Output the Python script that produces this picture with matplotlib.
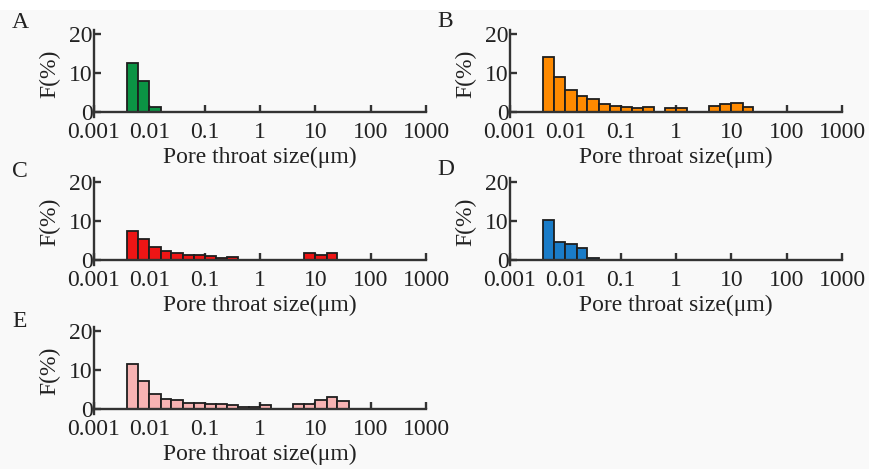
import matplotlib
matplotlib.use('Agg')
import matplotlib.pyplot as plt
import numpy as np

plt.rcParams['font.family'] = ['Liberation Serif', 'DejaVu Serif']

# bin edges (um), 0.2 log-decade bins
bin_edges = [0.004, 0.0063, 0.01, 0.016, 0.025, 0.04, 0.063, 0.1, 0.16, 0.25,
             0.4, 0.63, 1.0, 1.6, 2.5, 4.0, 6.3, 10.0, 16.0, 25.0, 40.0]

# frequency (%) per bin
freq_a = [12.6, 7.9, 1.4, 0, 0, 0, 0, 0, 0, 0, 0, 0, 0, 0, 0, 0, 0, 0, 0, 0]
freq_b = [14.2, 9.1, 5.7, 4.0, 3.4, 2.1, 1.5, 1.3, 1.0, 1.3, 0, 1.1, 1.1, 0, 0, 1.5, 2.0, 2.3, 1.2, 0]
freq_c = [7.4, 5.4, 3.4, 2.2, 1.8, 1.4, 1.4, 1.0, 0.5, 0.7, 0, 0, 0, 0, 0, 0, 1.7, 1.4, 1.7, 0]
freq_d = [10.2, 4.7, 4.2, 3.0, 0.6, 0, 0, 0, 0, 0, 0, 0, 0, 0, 0, 0, 0, 0, 0, 0]
freq_e = [11.5, 7.2, 3.9, 2.6, 2.2, 1.6, 1.6, 1.2, 1.2, 1.1, 0.6, 0.6, 0.9, 0, 0, 1.3, 1.2, 2.2, 3.2, 2.0]

panel_labels = ['A', 'B', 'C', 'D', 'E']
x_ticks = [0.001, 0.01, 0.1, 1, 10, 100, 1000]
x_ticklabels = ['0.001', '0.01', '0.1', '1', '10', '100', '1000']
y_ticks = [0, 10, 20]

W, H = 870, 469
fig = plt.figure(figsize=(W / 100, H / 100), dpi=100)
fig.patch.set_facecolor('#f9f9f9')
# white strip along the top
fig.add_artist(plt.Rectangle((0, 1 - 10 / H), 1, 10 / H, transform=fig.transFigure,
                             facecolor='white', edgecolor='none', zorder=0))

# (freq, colour, left px, zero line px, letter x, letter baseline)
panels = [
    (freq_a, '#0b9444', 94, 112, 12, 28),
    (freq_b, '#ff8a00', 510, 112, 437, 27),
    (freq_c, '#ee1515', 94, 260, 12, 177),
    (freq_d, '#1a7cc8', 510, 260, 437, 175),
    (freq_e, '#f7b3b3', 94, 409, 12, 327),
]

ppu = 3.9  # pixels per percent
y_lo, y_hi = -1.2, 21.0
ax_w = 332
edge_col = '#1e1e1e'
spine_col = '#333333'
txt_col = '#222222'

for (freq, col, left, zero, lx, ly), lab in zip(panels, panel_labels):
    top_px = zero - y_hi * ppu
    bot_px = zero - y_lo * ppu
    ax = fig.add_axes([left / W, 1 - bot_px / H, ax_w / W, (bot_px - top_px) / H])
    ax.set_facecolor('none')
    lefts = [bin_edges[i] for i in range(len(freq)) if freq[i] > 0]
    widths = [bin_edges[i + 1] - bin_edges[i] for i in range(len(freq)) if freq[i] > 0]
    heights = [f for f in freq if f > 0]
    ax.bar(lefts, heights, width=widths, align='edge', color=col,
           edgecolor=edge_col, linewidth=1.3, zorder=2)
    ax.set_xscale('log')
    ax.set_xlim(1e-3, 1e3)
    ax.set_ylim(y_lo, y_hi)
    ax.spines['top'].set_visible(False)
    ax.spines['right'].set_visible(False)
    ax.spines['bottom'].set_position(('data', 0))
    for s in ['left', 'bottom']:
        ax.spines[s].set_linewidth(1.7)
        ax.spines[s].set_color(spine_col)
        ax.spines[s].set_zorder(3)
    ax.set_xticks(x_ticks)
    ax.set_xticklabels(x_ticklabels)
    ax.xaxis.set_minor_locator(matplotlib.ticker.NullLocator())
    ax.set_yticks(y_ticks)
    ax.tick_params(axis='x', direction='in', length=5, width=1.7, color=spine_col,
                   labelsize=17, pad=7, labelcolor=txt_col)
    ax.tick_params(axis='y', direction='in', length=5, width=1.7, color=spine_col,
                   labelsize=17, pad=1, labelcolor=txt_col)
    ax.set_xlabel('Pore throat size(μm)', fontsize=17, labelpad=3, color=txt_col)
    ax.set_ylabel('F(%)', fontsize=17, labelpad=6, color=txt_col)
    fig.text(lx / W, 1 - ly / H, lab, fontsize=17, va='baseline', ha='left', color=txt_col)

fig.savefig('out.png', dpi=100, facecolor=fig.get_facecolor())
